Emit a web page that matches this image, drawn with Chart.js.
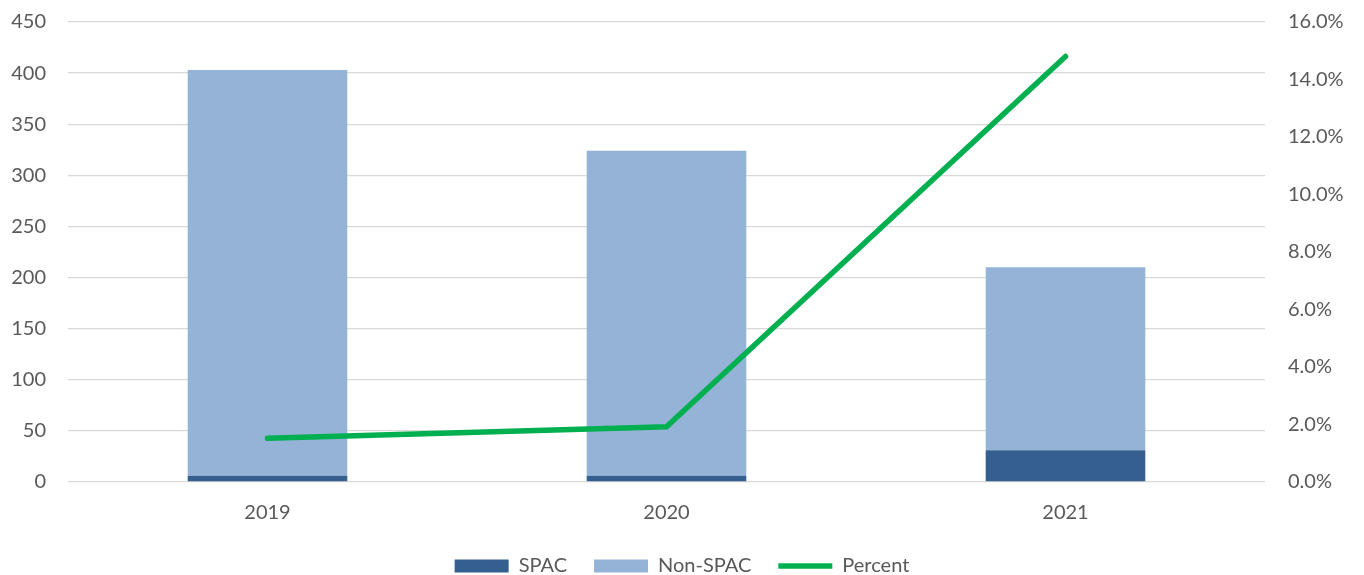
<!DOCTYPE html>
<html>
<head>
<meta charset="utf-8">
<script src="https://cdn.jsdelivr.net/npm/chart.js@4/dist/chart.umd.min.js"></script>
<style>
html,body{margin:0;padding:0;background:#fff;}
#wrap{width:1364px;height:575px;position:relative;}
</style>
</head>
<body>
<div id="wrap"><canvas id="c" width="1364" height="575"></canvas></div>
<script>
const categories = ['2019', '2020', '2021'];
const spacValues = [6, 6, 31];
const nonSpacValues = [397, 318, 179];
const percentValues = [1.52, 1.92, 14.8];
const leftTicksMax = 450;
const leftTickStep = 50;
const rightTicksMax = 16;
const rightTickStep = 2;

const FONT = 'Lato';
const TXT = '#595959';

new Chart(document.getElementById('c'), {
  data: {
    labels: categories,
    datasets: [
      {
        type: 'bar', label: 'SPAC', data: spacValues,
        backgroundColor: '#355F8F', borderWidth: 0,
        yAxisID: 'y', stack: 's', order: 1,
        categoryPercentage: 1, barPercentage: 0.4, pointStyle: 'rect'
      },
      {
        type: 'bar', label: 'Non-SPAC', data: nonSpacValues,
        backgroundColor: '#95B3D7', borderWidth: 0,
        yAxisID: 'y', stack: 's', order: 2,
        categoryPercentage: 1, barPercentage: 0.4, pointStyle: 'rect'
      },
      {
        type: 'line', label: 'Percent', data: percentValues,
        borderColor: '#00B050', backgroundColor: '#00B050',
        borderWidth: 5.5, pointRadius: 0, borderCapStyle: 'round',
        borderJoinStyle: 'miter',
        yAxisID: 'y1', order: 0, pointStyle: 'line'
      }
    ]
  },
  options: {
    responsive: false,
    animation: false,
    layout: { padding: { top: 22, left: 0, right: 0, bottom: -11 } },
    plugins: {
      tooltip: { enabled: false },
      legend: {
        position: 'bottom',
        labels: {
          sort: (a, b) => a.datasetIndex - b.datasetIndex,
          usePointStyle: true,
          pointStyleWidth: 54,
          boxHeight: 13,
          color: TXT,
          font: { family: FONT, size: 20 },
          padding: 27
        }
      }
    },
    scales: {
      x: {
        stacked: true,
        grid: { display: false, drawTicks: false },
        border: { display: false },
        ticks: { color: TXT, font: { family: FONT, size: 20 }, padding: 19 },
        afterFit: s => { s.height = 47; }
      },
      y: {
        stacked: true,
        position: 'left',
        min: 0, max: leftTicksMax,
        ticks: { stepSize: leftTickStep, color: TXT, font: { family: FONT, size: 20 }, padding: 22 },
        grid: { color: '#D9D9D9', lineWidth: 1.3, drawTicks: false },
        border: { display: false },
        afterFit: s => { s.width = 68; s.paddingTop = 0; s.paddingBottom = 0; }
      },
      y1: {
        position: 'right',
        min: 0, max: rightTicksMax,
        ticks: { stepSize: rightTickStep, color: TXT, font: { family: FONT, size: 20 }, padding: 23,
          callback: v => v.toFixed(1) + '%' },
        grid: { display: false, drawTicks: false },
        border: { display: false },
        afterFit: s => { s.width = 99; s.paddingTop = 0; s.paddingBottom = 0; }
      }
    }
  }
});
</script>
</body>
</html>
